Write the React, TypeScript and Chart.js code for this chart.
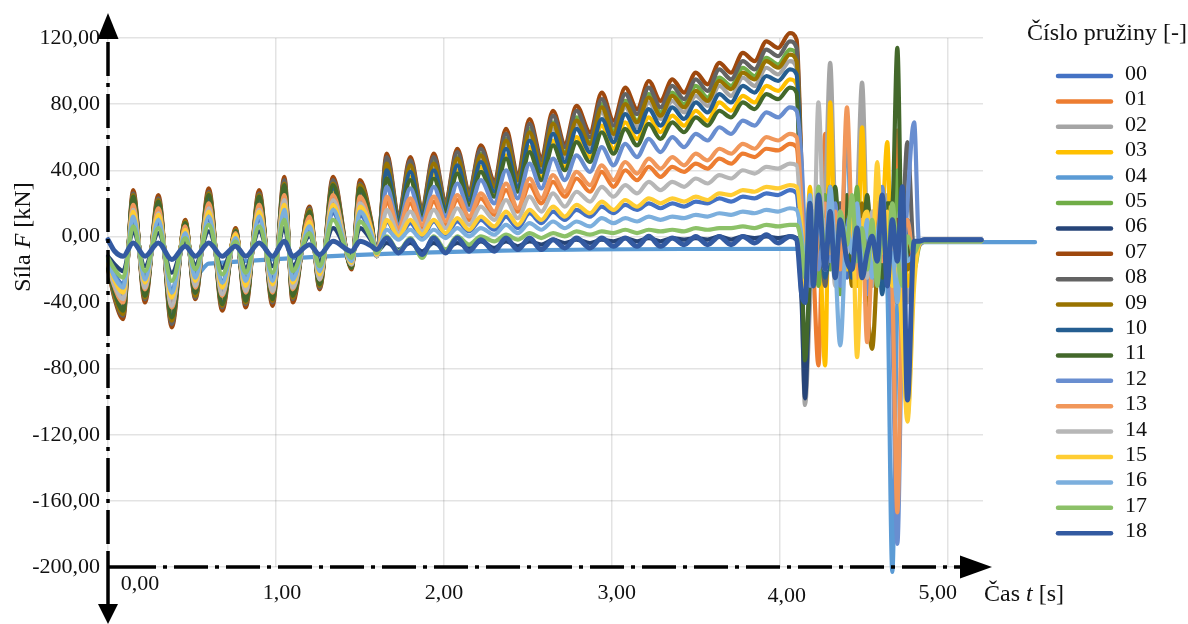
import React, { useEffect, useRef } from 'react';
import { Chart, registerables } from 'chart.js';

Chart.register(...registerables);

// ---------- data ----------
const timeS = [
  0.00, 0.04, 0.09, 0.15, 0.22, 0.30, 0.38, 0.46, 0.52, 0.60, 0.68, 0.76, 0.82, 0.90, 0.98, 1.05, 1.10, 1.20, 1.26, 1.34, 1.45, 1.50, 1.57, 1.60,
  1.66, 1.73, 1.80, 1.87, 1.94, 2.01, 2.08, 2.15, 2.22, 2.30, 2.37, 2.44, 2.51, 2.58, 2.65, 2.72, 2.79, 2.87, 2.94, 3.01, 3.08, 3.15, 3.22, 3.29, 3.36, 3.43, 3.50, 3.57, 3.64, 3.71, 3.78, 3.85, 3.92, 3.99, 4.06,
  4.10, 4.13, 4.15, 4.18, 4.20, 4.23, 4.27, 4.30, 4.33, 4.36, 4.40, 4.43, 4.46, 4.49, 4.52, 4.55, 4.58, 4.61, 4.64, 4.67, 4.70, 4.73, 4.76, 4.80, 4.83, 4.86,
  5.20, 5.52,
];

const seriesNames = ['00', '01', '02', '03', '04', '05', '06', '07', '08', '09', '10', '11', '12', '13', '14', '15', '16', '17', '18'];

const s00 = [
  -14, -23, -29, 10, -24, 8, -32, 1, -23, 10, -27, -2, -26, 10, -25, 14, -24, 5, -20, 14, -14, 13, 0, -10,
  9, -1, 8, 0, 9, 1, 9, 3, 10, 4, 12, 5, 14, 8, 15, 10, 16, 12, 18, 14, 19, 16, 20, 17, 20, 18, 21, 20, 23, 21, 24, 23, 26, 25, 28,
  26, -10, -30, 10, -20, 15, -15, 20, -10, 5, -25, 10, -5, 15, -20, 5, -15, 20, -10, -25, -10, 10, -20, -5, -4, -3,
  -3, null,
];
const s01 = [
  -16, -28, -35, 15, -29, 13, -39, 4, -28, 16, -32, 0, -31, 15, -30, 21, -29, 9, -24, 21, -16, 19, 2, -11,
  21, 4, 20, 5, 21, 7, 22, 10, 23, 13, 28, 15, 31, 20, 33, 24, 35, 27, 39, 30, 40, 34, 42, 36, 42, 39, 44, 41, 47, 44, 50, 48, 53, 52, 56,
  54, 10, -25, 5, -20, -78, 62, -10, 20, -15, 10, -20, 15, -10, 25, -30, 5, -20, 10, -40, 64, -30, -10, -10, -5, -3,
  -3, null,
];
const s02 = [
  -18, -32, -42, 21, -34, 18, -46, 6, -32, 22, -38, 2, -36, 21, -35, 27, -34, 13, -27, 27, -18, 26, 5, -11,
  43, 11, 41, 15, 43, 18, 45, 24, 47, 29, 56, 32, 61, 41, 65, 48, 68, 54, 75, 60, 78, 66, 81, 71, 82, 75, 85, 79, 91, 85, 96, 91, 102, 98, 106,
  102, -30, -102, -40, 10, -20, 20, 105, 10, -25, 15, -15, 20, 93, 0, -30, 10, -20, 25, -10, -30, 10, -40, -15, -5, -3,
  -3, null,
];
const s03 = [
  -18, -33, -42, 22, -34, 19, -47, 7, -33, 22, -38, 3, -37, 22, -36, 28, -34, 13, -28, 28, -18, 26, 5, -11,
  38, 10, 36, 13, 38, 16, 40, 20, 42, 25, 49, 28, 54, 36, 58, 42, 60, 48, 67, 53, 69, 59, 72, 63, 73, 67, 76, 70, 81, 76, 85, 81, 91, 88, 95,
  92, 20, -25, 30, -15, 10, -78, 81, -10, 20, -20, 10, -30, 66, -10, 15, -25, 5, 57, -40, -10, 20, -30, -10, -5, -3,
  -3, null,
];
const s04 = [
  -14, -24, -30, 13, -25, 11, -33, 3, -24, -16.5,
  null, null, null, null, null, null, null,
  null, null, null, null, null, null, null,
  null, null, null, null, null, null, null,
  null, null, null, null, null, null, null,
  null, null, null, null, null, null, null,
  null, null, null, null, null, null, null,
  null, null, null, null, null, null, null,
  -7.5, -15, -30, 10, -20, 5, -10, 20, -5, -20, 66, -10, 10, -20, 0, -15, 10, -10, -30, -203, -40, -10, -5, -4, -4, -3.5,
  -3.5, -3.5,
];
const s05 = [
  -15, -26, -33, 14, -27, 12, -36, 3, -26, 14, -30, 0, -29, 14, -28, 18, -27, 8, -22, 18, -15, 17, 2, -10,
  46, 12, 44, 16, 46, 20, 48, 25, 50, 31, 59, 34, 65, 44, 69, 51, 72, 57, 80, 64, 82, 70, 86, 75, 87, 80, 91, 84, 96, 91, 102, 97, 108, 104, 113,
  110, 20, -40, -10, 15, -30, 25, -20, 10, -35, 20, -10, 30, -25, 5, -15, 20, -30, 10, -20, 40, -30, 0, -20, -6, -3,
  -3, null,
];
const s06 = [
  -12, -17, -21, 3, -18, 2, -22, -3, -17, 3, -19, -4, -19, 3, -18, 5, -18, 0, -15, 5, -12, 5, -3, -9,
  -4, -8, -4, -9, -4, -8, -4, -7, -3, -7, -3, -6, -3, -5, -2, -4, -2, -4, -2, -3, -1, -3, -1, -3, -1, -2, -1, -2, 0, -2, 0, -1, 0, -1, 0,
  -1, -40, -98, -20, 10, -15, 5, -10, 15, -20, 0, -25, 10, -15, 5, -20, 10, -10, -5, -30, -10, 5, -15, -5, -3, -2,
  -2, null,
];
const s07 = [
  -20, -38, -50, 28, -40, 25, -55, 10, -38, 29, -45, 5, -43, 28, -42, 36, -40, 18, -32, 36, -20, 34, 8, -12,
  50, 14, 48, 18, 50, 22, 53, 28, 55, 34, 65, 38, 71, 48, 76, 56, 79, 63, 87, 70, 90, 77, 94, 82, 95, 87, 99, 92, 105, 99, 111, 106, 118, 114, 123,
  119, 40, -20, 10, -30, 20, -10, 15, -25, 5, -15, 20, -20, 10, -30, 0, 15, -20, 5, -35, 10, -25, -5, -15, -5, -3,
  -3, null,
];
const s08 = [
  -19, -37, -48, 26, -38, 23, -53, 9, -37, 27, -43, 4, -41, 26, -40, 34, -38, 17, -31, 34, -19, 32, 7, -12,
  48, 13, 46, 17, 48, 21, 51, 27, 53, 32, 62, 36, 68, 46, 73, 54, 76, 60, 83, 67, 86, 74, 90, 78, 91, 83, 95, 88, 101, 95, 106, 101, 113, 109, 118,
  114, 30, -35, 0, -20, 25, -30, 5, -15, 20, -10, 0, 15, -20, 10, -25, 0, 20, -30, -10, -40, 0, 57, -10, -5, -3,
  -3, null,
];
const s09 = [
  -19, -36, -47, 25, -37, 22, -51, 9, -36, 26, -42, 4, -40, 25, -39, 32, -37, 16, -30, 32, -19, 31, 7, -12,
  44, 12, 43, 16, 44, 19, 47, 25, 49, 30, 58, 34, 63, 43, 68, 50, 70, 56, 78, 62, 80, 69, 84, 73, 85, 78, 88, 82, 94, 89, 99, 95, 106, 102, 110,
  106, 35, -10, 20, -25, 10, -15, 30, -5, -20, 15, -30, 0, 20, -40, -68, -20, 10, -15, 0, -30, 15, -20, -10, -5, -3,
  -3, null,
];
const s10 = [
  -18, -34, -44, 23, -35, 20, -48, 7, -34, 23, -40, 3, -38, 23, -37, 29, -35, 14, -28, 29, -18, 28, 6, -11,
  40, 11, 39, 14, 40, 17, 43, 22, 45, 27, 53, 30, 58, 39, 62, 45, 65, 51, 71, 57, 74, 63, 77, 67, 78, 71, 81, 75, 86, 81, 91, 87, 97, 94, 101,
  98, 30, -30, 15, -10, 30, -25, 0, 25, -15, 10, -25, 5, -10, 20, -20, 5, -35, 15, -20, -5, -40, 10, -10, -5, -3,
  -3, null,
];
const s11 = [
  -19, -34, -45, 24, -36, 21, -49, 8, -34, 25, -41, 3, -39, 24, -38, 31, -36, 15, -29, 31, -19, 29, 6, -12,
  35, 9, 34, 12, 35, 15, 38, 19, 39, 24, 47, 27, 51, 34, 55, 40, 57, 45, 63, 50, 65, 55, 68, 59, 69, 63, 72, 67, 76, 72, 81, 77, 86, 83, 90,
  87, -10, -75, -20, 10, -10, 20, -5, 30, -10, 25, -15, 10, -20, 25, -10, 0, -25, 20, 20, 114, -20, -10, -5, -5, -3,
  -3, null,
];
const s12 = [
  -16, -29, -37, 17, -30, 15, -41, 5, -29, 18, -34, 1, -33, 17, -32, 23, -30, 10, -25, 23, -16, 21, 3, -11,
  30, 7, 29, 10, 30, 12, 32, 16, 34, 20, 40, 23, 44, 29, 47, 34, 49, 39, 54, 43, 56, 48, 59, 51, 60, 54, 62, 58, 66, 62, 70, 67, 75, 72, 78,
  76, 45, 0, -30, 15, -20, 10, -15, 20, -30, 5, 15, -20, 0, -35, 10, -10, 30, -20, -60, -186, -40, 20, 69, -5, -3,
  -3, null,
];
const s13 = [
  -17, -31, -40, 19, -32, 17, -43, 6, -31, 20, -36, 2, -34, 19, -34, 25, -32, 12, -26, 25, -17, 24, 4, -11,
  24, 5, 23, 7, 24, 9, 25, 12, 26, 15, 32, 17, 35, 23, 37, 27, 39, 31, 43, 34, 45, 38, 47, 41, 48, 43, 50, 46, 53, 50, 56, 53, 60, 58, 62,
  60, 20, -15, 10, -30, 5, 20, -10, 15, -20, 78, 0, -25, 10, -64, -10, 20, -15, 0, -30, -167, -20, 10, -15, -5, -3,
  -3, null,
];
const s14 = [
  -17, -30, -38, 16, -31, 14, -42, 4, -30, 17, -35, 0, -33, 16, -33, 22, -31, 9, -26, 22, -17, 20, 2, -12,
  16, 2, 15, 3, 16, 5, 17, 7, 18, 10, 22, 11, 24, 15, 26, 18, 27, 21, 30, 24, 31, 26, 33, 28, 33, 30, 35, 32, 37, 35, 40, 38, 42, 41, 44,
  43, 0, -40, 20, -15, 81, -20, 10, -30, 15, -10, 20, -15, 5, -25, 15, -10, 20, -20, 0, -30, -50, -109, -20, -5, -3,
  -3, null,
];
const s15 = [
  -16, -27, -34, 15, -28, 13, -37, 4, -27, 15, -31, 1, -30, 15, -29, 19, -28, 9, -23, 19, -16, 18, 3, -11,
  10, 0, 10, 1, 10, 2, 11, 4, 12, 6, 15, 7, 16, 10, 18, 12, 19, 14, 21, 16, 22, 18, 23, 20, 23, 21, 24, 22, 26, 25, 28, 27, 30, 29, 31,
  30, 5, -30, 15, -10, 20, -20, 5, -15, 10, -5, 20, -73, 0, 15, -20, 45, -10, 15, -30, -20, -60, -112, -30, -5, -3,
  -3, null,
];
const s16 = [
  -15, -25, -31, 12, -26, 10, -34, 2, -25, 12, -28, -1, -27, 12, -27, 16, -26, 6, -21, 16, -15, 15, 1, -10,
  4, -2, 4, -2, 4, -1, 5, 0, 5, 1, 7, 2, 8, 4, 9, 5, 9, 6, 11, 8, 11, 9, 12, 10, 12, 11, 13, 12, 14, 13, 15, 14, 16, 15, 17,
  16, 0, -20, 25, -10, 10, -20, 30, -15, -66, 5, -10, 20, -15, 10, -25, 0, 15, -20, -10, -40, 10, -15, -10, -4, -3,
  -3, null,
];
const s17 = [
  -13, -20, -25, 6, -21, 5, -27, -1, -20, 7, -23, -3, -22, 6, -22, 10, -21, 2, -18, 10, -13, 9, -2, -10,
  0, -9, -1, -13, 0, -8, 0, -5, 0, -3, 1, -2, 2, -1, 2, 0, 3, 1, 3, 2, 4, 2, 4, 3, 4, 3, 5, 4, 5, 5, 6, 5, 7, 6, 7,
  7, -5, -25, 20, -20, 30, -10, 10, -25, 15, -5, 25, -15, 5, -20, 10, -30, 5, -15, 20, -10, -30, 0, -10, -4, -3,
  -3, null,
];
const s18 = [
  -2, -9, -12, -4, -12, -4, -14, -6, -12, -4, -12, -6, -12, -4, -12, -3, -12, -5, -11, -3, -9, -3, -6, -8,
  -1, -10, -2, -11, -1, -10, -1, -9, -2, -9, -1, -8, -1, -8, -2, -7, -1, -7, -1, -6, -1, -6, 0, -6, -1, -5, 0, -5, 0, -5, 0, -4, 1, -4, 0,
  -2, -35, -40, 20, -30, 25, -20, 15, -25, 10, -15, -20, 5, -25, -10, 0, -15, 25, -30, 10, -15, 30, -99, -3, -3, -2,
  -2, null,
];

const seriesValues = [s00, s01, s02, s03, s04, s05, s06, s07, s08, s09, s10, s11, s12, s13, s14, s15, s16, s17, s18];

const seriesColors = [
  '#4472C4', '#ED7D31', '#A5A5A5', '#FFC000', '#5B9BD5', '#70AD47', '#264478', '#9E480E', '#636363', '#997300',
  '#255E91', '#43682B', '#698ED0', '#F1975A', '#B7B7B7', '#FFCD33', '#7CAFDD', '#8CC168', '#335AA1',
];

const yTickValues = [-200, -160, -120, -80, -40, 0, 40, 80, 120];
const yTickLabels = ['-200,00', '-160,00', '-120,00', '-80,00', '-40,00', '0,00', '40,00', '80,00', '120,00'];
const xTickValues = [0, 1, 2, 3, 4, 5];
const xTickLabels = ['0,00', '1,00', '2,00', '3,00', '4,00', '5,00'];
const legendTitle = 'Číslo pružiny [-]';
const yTitleParts: [string, boolean][] = [['Síla ', false], ['F', true], [' [kN]', false]];
const xTitleParts: [string, boolean][] = [['Čas ', false], ['t', true], [' [s]', false]];

// ---------- styling helpers ----------
const FAM = '"Liberation Serif", "Times New Roman", serif';

function drawRich(ctx: CanvasRenderingContext2D, parts: [string, boolean][], x: number, y: number, size: number, center: boolean) {
  let total = 0;
  const widths = parts.map(([t, it]) => {
    ctx.font = `${it ? 'italic ' : ''}${size}px ${FAM}`;
    const w = ctx.measureText(t).width;
    total += w;
    return w;
  });
  let cx = center ? x - total / 2 : x;
  ctx.textAlign = 'left';
  ctx.textBaseline = 'alphabetic';
  parts.forEach(([t, it], i) => {
    ctx.font = `${it ? 'italic ' : ''}${size}px ${FAM}`;
    ctx.fillText(t, cx, y);
    cx += widths[i];
  });
}

function tri(ctx: CanvasRenderingContext2D, a: number[], b: number[], c: number[]) {
  ctx.beginPath();
  ctx.moveTo(a[0], a[1]);
  ctx.lineTo(b[0], b[1]);
  ctx.lineTo(c[0], c[1]);
  ctx.closePath();
  ctx.fill();
}

const xLabelNudge = [32, 6, 0, 5, 7, -10];
const xLabelBase = [590, 599, 599, 599, 602, 599];

const decorPlugin = {
  id: 'decor',
  afterDatasetsDraw(chart: any) {
    const { ctx, chartArea } = chart;
    const x0 = chartArea.left;
    const yB = chartArea.bottom;
    ctx.save();
    ctx.strokeStyle = '#000';
    ctx.fillStyle = '#000';
    ctx.lineWidth = 3.5;
    ctx.lineCap = 'butt';
    ctx.setLineDash([34, 7, 4, 7]);
    ctx.beginPath();
    ctx.moveTo(x0, chartArea.top + 4);
    ctx.lineTo(x0, yB - 14);
    ctx.stroke();
    ctx.beginPath();
    ctx.moveTo(x0 + 14, yB);
    ctx.lineTo(chartArea.right - 22, yB);
    ctx.stroke();
    ctx.setLineDash([]);
    ctx.beginPath();
    ctx.moveTo(x0, yB - 14);
    ctx.lineTo(x0, 606);
    ctx.stroke();
    ctx.beginPath();
    ctx.moveTo(x0, yB);
    ctx.lineTo(x0 + 14, yB);
    ctx.stroke();
    tri(ctx, [x0, 13], [x0 - 10.5, chartArea.top + 1], [x0 + 10.5, chartArea.top + 1]);
    tri(ctx, [x0, 624], [x0 - 10, 604], [x0 + 10, 604]);
    tri(ctx, [992, yB], [960, yB - 11.5], [960, yB + 11.5]);
    ctx.restore();
  },
  afterDraw(chart: any) {
    const { ctx, scales } = chart;
    ctx.save();
    ctx.fillStyle = '#111';
    ctx.font = `22px ${FAM}`;
    ctx.textAlign = 'center';
    ctx.textBaseline = 'alphabetic';
    xTickValues.forEach((v, i) => {
      const px = scales.x.getPixelForValue(v) + xLabelNudge[i];
      ctx.fillText(xTickLabels[i], px, xLabelBase[i]);
    });
    drawRich(ctx, xTitleParts, 984, 601, 24, false);
    ctx.save();
    ctx.translate(22, 237);
    ctx.rotate(-Math.PI / 2);
    drawRich(ctx, yTitleParts, 0, 8, 24, true);
    ctx.restore();
    ctx.font = `24px ${FAM}`;
    ctx.textAlign = 'left';
    ctx.fillText(legendTitle, 1027, 40);
    seriesNames.forEach((name, i) => {
      const ly = 76 + i * 25.4;
      ctx.strokeStyle = seriesColors[i];
      ctx.lineWidth = 4.5;
      ctx.lineCap = 'round';
      ctx.beginPath();
      ctx.moveTo(1058, ly);
      ctx.lineTo(1111, ly);
      ctx.stroke();
      ctx.fillStyle = '#111';
      ctx.font = `22px ${FAM}`;
      ctx.fillText(name, 1125, ly + 4);
    });
    ctx.restore();
  },
};

export default function App() {
  const ref = useRef<HTMLCanvasElement>(null);
  useEffect(() => {
    if (!ref.current) return;
    const datasets = seriesValues.map((vals, i) => ({
      label: seriesNames[i],
      data: vals.map((y, j) => ({ x: timeS[j], y })),
      borderColor: seriesColors[i],
      backgroundColor: seriesColors[i],
      borderWidth: i === 18 ? 5 : 4.2,
      borderCapStyle: 'round' as const,
      borderJoinStyle: 'round' as const,
      pointRadius: 0,
      fill: false,
      cubicInterpolationMode: 'monotone' as const,
      spanGaps: i === 4,
      clip: false as any,
      order: 18 - i,
    }));
    const gridColor = 'rgba(0,0,0,0.11)';
    const chart = new Chart(ref.current, {
      type: 'line',
      data: { datasets },
      options: {
        animation: false,
        responsive: false,
        devicePixelRatio: 1,
        layout: { padding: { left: 0, right: 205, top: 38, bottom: 0 } },
        plugins: { legend: { display: false }, tooltip: { enabled: false }, title: { display: false } },
        scales: {
          x: {
            type: 'linear',
            min: 0,
            max: 5.21,
            afterBuildTicks: (s: any) => {
              s.ticks = xTickValues.map((v) => ({ value: v }));
            },
            afterFit: (s: any) => {
              s.height = 57;
            },
            ticks: { display: false },
            grid: { color: gridColor, lineWidth: 1.5, drawTicks: false },
            border: { display: false },
          },
          y: {
            type: 'linear',
            min: -200,
            max: 120,
            afterBuildTicks: (s: any) => {
              s.ticks = yTickValues.map((v) => ({ value: v }));
            },
            afterFit: (s: any) => {
              s.width = 108;
            },
            ticks: {
              callback: (_v: any, idx: number) => yTickLabels[idx],
              font: { family: FAM, size: 22 },
              color: '#111',
              padding: 8,
            },
            grid: { color: gridColor, lineWidth: 1.5, drawTicks: false },
            border: { display: false },
          },
        },
      } as any,
      plugins: [decorPlugin],
    });
    return () => chart.destroy();
  }, []);
  return (
    <canvas
      ref={ref}
      width={1188}
      height={624}
      style={{ position: 'absolute', left: 0, top: 0, width: 1188, height: 624, display: 'block', background: '#fff' }}
    />
  );
}
